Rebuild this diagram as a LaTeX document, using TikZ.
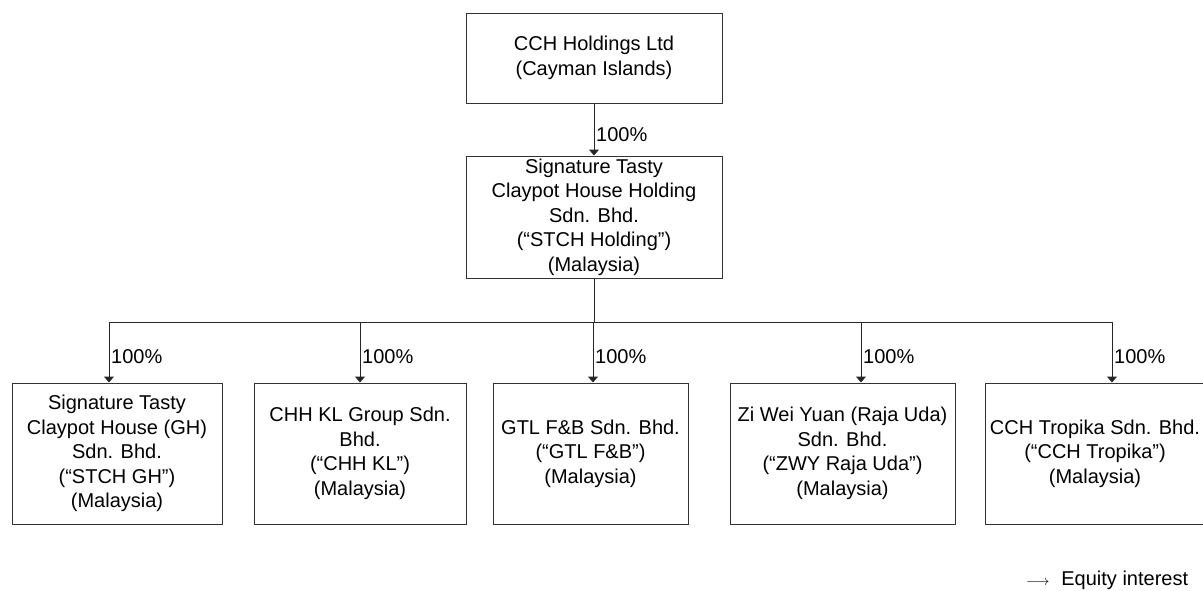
\documentclass[tikz,border=0pt]{standalone}
\usepackage{fontspec}
\setmainfont{Liberation Sans}
\usetikzlibrary{arrows.meta,calc}
\begin{document}
\begin{tikzpicture}[x=1pt,y=-1pt,
		entity/.style={draw=black!80,line width=1pt,align=center,inner sep=0pt,
			font=\fontsize{20}{24.5}\selectfont},
		own/.style={draw=black!85,line width=1pt,-{Triangle[width=10pt,length=6pt]}},
		pct/.style={anchor=west,inner sep=1pt,font=\fontsize{20}{24}\selectfont}]
		\useasboundingbox (0,0) rectangle (1203,590);
		\node[entity,minimum width=256pt,minimum height=90pt] (cch) at (594,58) {CCH Holdings Ltd\\(Cayman Islands)};
		\node[entity,minimum width=256pt,minimum height=122pt] (stch) at (594,217) {Signature Tasty\\Claypot House Holding\\Sdn. Bhd.\\(“STCH Holding”)\\(Malaysia)};
		\node[entity,minimum width=210pt,minimum height=141pt] (gh) at (117,453.5) {Signature Tasty\\Claypot House (GH)\\Sdn. Bhd.\\(“STCH GH”)\\(Malaysia)};
		\node[entity,minimum width=212pt,minimum height=141pt] (kl) at (360,453.5) {CHH KL Group Sdn.\\Bhd.\\(“CHH KL”)\\(Malaysia)};
		\node[entity,minimum width=195pt,minimum height=141pt] (gtl) at (590.5,453.5) {GTL F\&B Sdn. Bhd.\\(“GTL F\&B”)\\(Malaysia)};
		\node[entity,minimum width=225pt,minimum height=141pt] (zwy) at (842.5,453.5) {Zi Wei Yuan (Raja Uda)\\Sdn. Bhd.\\(“ZWY Raja Uda”)\\(Malaysia)};
		\node[entity,minimum width=220pt,minimum height=141pt] (trop) at (1095,453.5) {CCH Tropika Sdn. Bhd.\\(“CCH Tropika”)\\(Malaysia)};
		% holding arrow
		\draw[own] (cch) -- (stch);
		\node[pct] at (595,135) {100\%};
		% bus to the subsidiaries
		\coordinate (bus) at (594,322);
		\coordinate (j1) at (109,322);
		\coordinate (j2) at (360,322);
		\coordinate (j3) at (593,322);
		\coordinate (j4) at (861,322);
		\coordinate (j5) at (1112,322);
		\draw[draw=black!85,line width=1pt] (stch.south) -- (bus);
		\draw[draw=black!85,line width=1pt] (j1) -- (j5);
		\foreach \j/\n in {j1/gh,j2/kl,j3/gtl,j4/zwy,j5/trop}{
			\draw[own] (\j) -- (\j |- \n.north);
			\node[pct] at ($(\j)+(1,35)$) {100\%};
		}
		\node[anchor=west,inner sep=0pt,font=\fontsize{20}{24}\selectfont] (legend) at (1026,580) {{\fontsize{15}{15}\selectfont$\longrightarrow$}\hspace{12pt}Equity interest};
	\end{tikzpicture}
\end{document}
